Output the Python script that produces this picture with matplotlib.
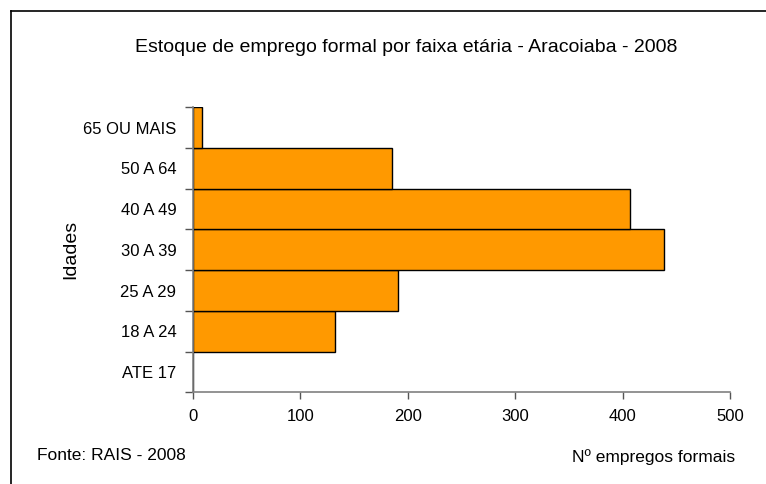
import matplotlib.pyplot as plt
import numpy as np
from matplotlib.lines import Line2D

categorias = ['ATE 17', '18 A 24', '25 A 29', '30 A 39', '40 A 49', '50 A 64', '65 OU MAIS']
empregos = [0, 132, 191, 439, 407, 185, 8]
xticks = [0, 100, 200, 300, 400, 500]

plt.rcParams['font.family'] = ['Liberation Sans', 'DejaVu Sans']

fig = plt.figure(figsize=(7.66, 4.84), dpi=100)
W, H = 766, 484
ax = fig.add_axes([193 / W, (H - 392.3) / H, (730 - 193) / W, (392.3 - 107.3) / H])

pos = np.arange(len(categorias))
ax.barh(pos, empregos, height=1.0, color='#FF9900', edgecolor='black', linewidth=1.0)

ax.set_xlim(0, 500)
ax.set_ylim(-0.5, len(categorias) - 0.5)
ax.set_xticks(xticks)
ax.set_xticklabels([str(v) for v in xticks], fontsize=12)
ax.set_yticks(np.arange(len(categorias) + 1) - 0.5)
ax.set_yticklabels([])
ax.set_yticks(pos, minor=True)
ax.set_yticklabels(categorias, minor=True, fontsize=12)
ax.tick_params(axis='y', which='minor', length=0, pad=12)
ax.tick_params(axis='y', which='major', length=6, width=1, color='#555555')
ax.tick_params(axis='x', length=5, width=1, color='#555555', pad=7)

for s in ['top', 'right']:
    ax.spines[s].set_visible(False)
for s in ['left', 'bottom']:
    ax.spines[s].set_color('#808080')
    ax.spines[s].set_linewidth(1.2)

ax.set_ylabel('Idades', fontsize=14, labelpad=3)
fig.text(406 / W, 1 - 48 / H, 'Estoque de emprego formal por faixa etária - Aracoiaba - 2008',
         ha='center', va='center', fontsize=14)
fig.text(37 / W, 1 - 456 / H, 'Fonte: RAIS - 2008', ha='left', va='center', fontsize=12.5)
fig.text(735 / W, 1 - 457 / H, 'Nº empregos formais', ha='right', va='center', fontsize=12.5)

# moldura (so topo e esquerda visiveis)
fig.add_artist(Line2D([10.5 / W, 1], [1 - 10.5 / H, 1 - 10.5 / H], color='black', lw=1.2))
fig.add_artist(Line2D([10.5 / W, 10.5 / W], [0, 1 - 10.5 / H], color='black', lw=1.2))

fig.savefig('out.png', dpi=100)
